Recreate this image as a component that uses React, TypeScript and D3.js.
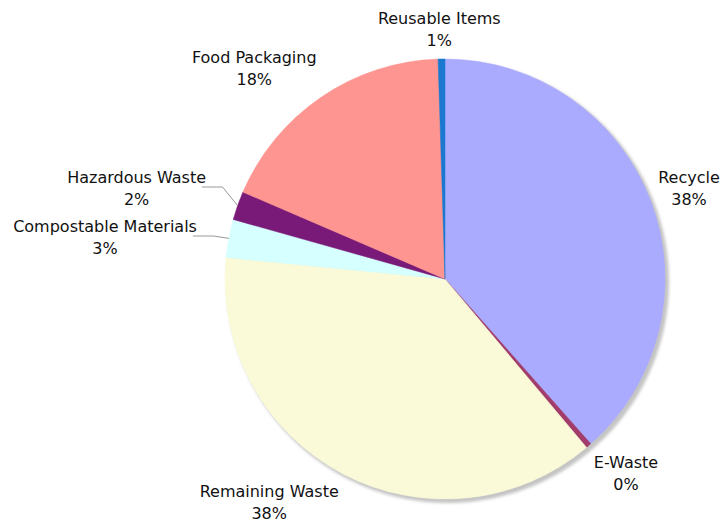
import React from "react";
import * as d3 from "d3";

const categories = ["Recycle", "E-Waste", "Remaining Waste", "Compostable Materials", "Hazardous Waste", "Food Packaging", "Reusable Items"];
const values = [38.4, 0.4, 37.6, 2.8, 2.1, 18.0, 0.5];
const colors = ["#aaaaff", "#a23c6b", "#fafad8", "#d6ffff", "#7a1a78", "#ff9590", "#1a78d0"];

const W = 722, H = 524;
const CX = 445, CY = 279, R = 220;
const FONT = "16px 'DejaVu Sans'";
const LINE = 22;
const BLOCK_H = 44;

function measure(text: string): number {
  const c = document.createElement("canvas").getContext("2d");
  if (!c) return text.length * 8.5;
  c.font = FONT;
  return c.measureText(text).width;
}

export default function App() {
  const total = d3.sum(values);
  const pie = d3.pie<number>().sort(null).value((d) => d).startAngle(0).endAngle(2 * Math.PI);
  const arcs = pie(values);
  const arc = d3.arc<d3.PieArcDatum<number>>().innerRadius(0).outerRadius(R);
  const clamp = (v: number) => Math.max(-1, Math.min(1, v));

  const labels = arcs.map((a, i) => {
    const mid = (a.startAngle + a.endAngle) / 2;
    const s = Math.sin(mid), c = Math.cos(mid);
    const pct = Math.round((values[i] / total) * 100) + "%";
    const w = Math.max(measure(categories[i]), measure(pct));
    const share = values[i] / total;
    const leader = share < 0.05 && Math.abs(s) > 0.9;
    const push = leader ? 24 : 0;
    const px = CX + (R + 8) * s;
    const py = CY - (R + 8) * c;
    const cx = px + clamp(2.2 * s) * w / 2 + Math.sign(s) * push;
    const cy = py + clamp(-1.3 * c) * BLOCK_H / 2;
    return { i, mid, s, c, pct, w, leader, cx, cy, side: s < 0 ? -1 : 1 };
  });

  // simple collision resolution per side
  for (const side of [-1, 1]) {
    const group = labels.filter((l) => l.side === side).sort((a, b) => a.cy - b.cy);
    for (let iter = 0; iter < 20; iter++) {
      for (let k = 1; k < group.length; k++) {
        const a = group[k - 1], b = group[k];
        const overlapY = a.cy + BLOCK_H + 5 - b.cy;
        const overlapX = Math.abs(a.cx - b.cx) < (a.w + b.w) / 2;
        if (overlapY > 0 && overlapX) {
          a.cy -= overlapY / 2;
          b.cy += overlapY / 2;
        }
      }
    }
  }

  return (
    <svg width={W} height={H} style={{ position: "absolute", left: 0, top: 0, background: "#fff" }}>
      <defs>
        <filter id="shadow" x="-10%" y="-10%" width="120%" height="120%">
          <feGaussianBlur stdDeviation="1.5" />
        </filter>
      </defs>
      <circle cx={CX + 3} cy={CY + 3} r={R + 1} fill="#c4c4c4" filter="url(#shadow)" />
      <g transform={`translate(${CX},${CY})`}>
        {arcs.map((a, i) => (
          <path key={i} d={arc(a) || ""} fill={colors[i]} stroke={colors[i]} strokeWidth={0.5} />
        ))}
      </g>
      {labels.map((l) => {
        const ex = CX + R * l.s;
        const ey = CY - R * l.c;
        const right = l.cx + (l.side < 0 ? l.w / 2 : -l.w / 2);
        return (
          <g key={l.i}>
            {l.leader && (
              <polyline
                points={`${ex},${ey} ${ex + 15 * l.side},${l.cy - 1} ${right + 4 * l.side},${l.cy - 1}`}
                fill="none"
                stroke="#999"
                strokeWidth={1}
              />
            )}
            <text
              x={l.cx}
              y={l.cy - LINE / 2}
              textAnchor="middle"
              dominantBaseline="central"
              style={{ font: FONT, fill: "#111" }}
            >
              {categories[l.i]}
            </text>
            <text
              x={l.cx}
              y={l.cy + LINE / 2}
              textAnchor="middle"
              dominantBaseline="central"
              style={{ font: FONT, fill: "#111" }}
            >
              {l.pct}
            </text>
          </g>
        );
      })}
    </svg>
  );
}
